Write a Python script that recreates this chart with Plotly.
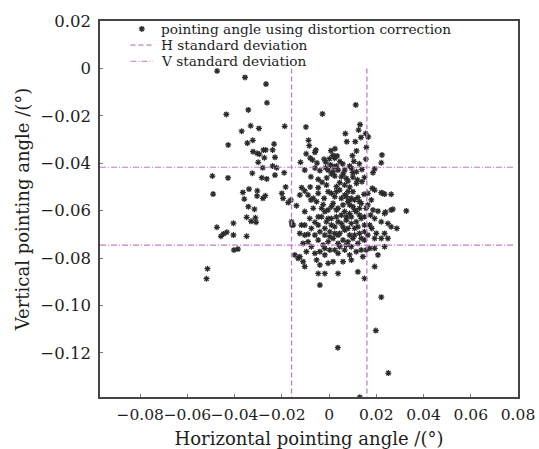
import plotly.graph_objects as go

# ---------------- data ----------------
x_left = [
    -0.0474, -0.0356, -0.0267, -0.0263, -0.0342, -0.0435, -0.0332, -0.0297, -0.0188, -0.0370,
    -0.0427, -0.0346, -0.0323, -0.0233, -0.0322, -0.0305, -0.0295, -0.0278, -0.0268, -0.0239,
    -0.0274, -0.0229, -0.0300, -0.0281, -0.0239, -0.0222, -0.0190, -0.0325, -0.0494, -0.0428,
    -0.0285, -0.0264, -0.0229, -0.0184, -0.0491, -0.0365, -0.0339, -0.0304, -0.0305, -0.0359,
    -0.0280, -0.0270, -0.0200, -0.0195, -0.0173, -0.0342, -0.0316, -0.0349, -0.0312, -0.0330,
    -0.0309, -0.0405, -0.0157, -0.0475, -0.0433, -0.0447, -0.0458, -0.0405, -0.0349, -0.0403,
    -0.0386, -0.0515, -0.0519,
]
y_left = [
    -0.0011, -0.0038, -0.0066, -0.0145, -0.0175, -0.0194, -0.0242, -0.0253, -0.0244, -0.0265,
    -0.0323, -0.0315, -0.0303, -0.0319, -0.0351, -0.0358, -0.0362, -0.0344, -0.0344, -0.0344,
    -0.0377, -0.0375, -0.0396, -0.0419, -0.0412, -0.0419, -0.0440, -0.0442, -0.0454, -0.0462,
    -0.0461, -0.0466, -0.0450, -0.0500, -0.0530, -0.0523, -0.0509, -0.0516, -0.0538, -0.0551,
    -0.0548, -0.0537, -0.0527, -0.0548, -0.0566, -0.0583, -0.0594, -0.0628, -0.0630, -0.0645,
    -0.0649, -0.0653, -0.0660, -0.0670, -0.0691, -0.0698, -0.0708, -0.0703, -0.0708, -0.0766,
    -0.0762, -0.0845, -0.0887,
]

x_upper = [
    0.0113, -0.0028, -0.0098, 0.0131, 0.0125, 0.0069, 0.0155, 0.0166, 0.0135, -0.0087,
    0.0075, 0.0111, -0.0084, 0.0158, -0.0056, -0.0060, -0.0097, 0.0116, 0.0025, 0.0008,
    0.0224, 0.0016, 0.0034, -0.0080, 0.0099, 0.0156, 0.0221, -0.0070, -0.0051, -0.0021,
    0.0002, 0.0024, -0.0014, 0.0046, 0.0058, 0.0105, 0.0128, -0.0121, 0.0006, 0.0031,
    0.0087, -0.0015, 0.0193, 0.0186, -0.0103, -0.0039, -0.0004, 0.0017, 0.0038, 0.0066,
    0.0095, 0.0116, 0.0139, -0.0077, -0.0046, -0.0010, 0.0024, 0.0052, 0.0073, 0.0101,
    0.0139, 0.0183, -0.0116, -0.0046, -0.0011, 0.0031, 0.0045, 0.0066, 0.0087, 0.0116,
    0.0010, 0.0060, -0.0030, 0.0080, 0.0120, -0.0080, 0.0150, 0.0020, -0.0060, 0.0100,
]
y_upper = [
    -0.0154, -0.0192, -0.0247, -0.0237, -0.0260, -0.0275, -0.0275, -0.0289, -0.0291, -0.0303,
    -0.0309, -0.0309, -0.0326, -0.0333, -0.0344, -0.0354, -0.0360, -0.0348, -0.0339, -0.0347,
    -0.0365, -0.0367, -0.0369, -0.0378, -0.0368, -0.0383, -0.0398, -0.0386, -0.0399, -0.0383,
    -0.0381, -0.0379, -0.0395, -0.0393, -0.0403, -0.0392, -0.0402, -0.0396, -0.0407, -0.0412,
    -0.0412, -0.0419, -0.0424, -0.0440, -0.0429, -0.0431, -0.0429, -0.0436, -0.0429, -0.0429,
    -0.0421, -0.0436, -0.0426, -0.0457, -0.0468, -0.0462, -0.0454, -0.0457, -0.0464, -0.0459,
    -0.0478, -0.0506, -0.0503, -0.0503, -0.0492, -0.0499, -0.0482, -0.0492, -0.0501, -0.0485,
    -0.0445, -0.0445, -0.0480, -0.0475, -0.0470, -0.0500, -0.0460, -0.0415, -0.0420, -0.0440,
]

x_core = [
    -0.0162, -0.0124, -0.0103, -0.0077, -0.0046, -0.0021, -0.0004, 0.0024, 0.0045, 0.0066,
    0.0087, 0.0101, 0.0122, 0.0148, 0.0179, 0.0193, 0.0228, 0.0263,
    -0.0138, -0.0103, -0.0067, -0.0046, -0.0025, -0.0004, 0.0017, 0.0038, 0.0059, 0.0080,
    0.0101, 0.0115, 0.0136, 0.0157, 0.0176, 0.0207, 0.0235, 0.0263,
    -0.0159, -0.0117, -0.0082, -0.0060, -0.0032, -0.0011, 0.0010, 0.0031, 0.0052, 0.0073,
    0.0094, 0.0115, 0.0136, 0.0172, 0.0193, 0.0221, 0.0249,
    -0.0152, -0.0124, -0.0103, -0.0089, -0.0039, -0.0018, 0.0003, 0.0024, 0.0045, 0.0066,
    0.0087, 0.0108, 0.0129, 0.0150, 0.0181, 0.0200, 0.0235, 0.0263,
    -0.0110, -0.0046, -0.0025, -0.0004, 0.0017, 0.0038, 0.0059, 0.0080, 0.0101, 0.0122,
    0.0150, 0.0193, 0.0221, 0.0249,
    -0.0145, -0.0124, -0.0096, -0.0060, -0.0039, -0.0018, 0.0003, 0.0038, 0.0066, 0.0087,
    0.0115, 0.0136, 0.0172, 0.0193, 0.0235, 0.0207,
    -0.0131, -0.0110, -0.0103, -0.0053, -0.0039, -0.0004, 0.0017, 0.0059, 0.0094, 0.0143,
    0.0193,
    -0.0046, -0.0018, 0.0038, 0.0122, 0.0150, -0.0039,
    0.0052, 0.0073, 0.0094, 0.0108, 0.0129, 0.0087, 0.0108, 0.0129, 0.0066, 0.0087,
    0.0052, 0.0073, 0.0129, 0.0150, 0.0038, 0.0094, 0.0122, 0.0150, 0.0059, 0.0080,
    0.0024, 0.0003, -0.0018, 0.0038, 0.0108, 0.0136, 0.0164, 0.0010, -0.0004, 0.0031,
    0.0010, -0.0018, -0.0032, -0.0053, -0.0067, -0.0089, 0.0010, 0.0031, 0.0080, 0.0164,
    0.0164, 0.0186, -0.0103, -0.0075, -0.0060, -0.0046, 0.0045, 0.0024, -0.0018, 0.0073,
    0.0094, 0.0157, -0.0075, -0.0089,
]
y_core = [
    -0.0555, -0.0534, -0.0517, -0.0555, -0.0527, -0.0548, -0.0520, -0.0541, -0.0513, -0.0534,
    -0.0555, -0.0520, -0.0545, -0.0531, -0.0555, -0.0513, -0.0527, -0.0531,
    -0.0579, -0.0604, -0.0590, -0.0626, -0.0574, -0.0597, -0.0569, -0.0590, -0.0576, -0.0562,
    -0.0583, -0.0604, -0.0569, -0.0590, -0.0619, -0.0602, -0.0612, -0.0597,
    -0.0647, -0.0661, -0.0633, -0.0649, -0.0626, -0.0647, -0.0633, -0.0626, -0.0654, -0.0640,
    -0.0626, -0.0647, -0.0633, -0.0661, -0.0633, -0.0647, -0.0654,
    -0.0661, -0.0696, -0.0703, -0.0700, -0.0689, -0.0675, -0.0689, -0.0668, -0.0696, -0.0682,
    -0.0703, -0.0675, -0.0696, -0.0689, -0.0675, -0.0696, -0.0696, -0.0668,
    -0.0738, -0.0724, -0.0745, -0.0731, -0.0717, -0.0738, -0.0724, -0.0731, -0.0717, -0.0738,
    -0.0724, -0.0717, -0.0717, -0.0717,
    -0.0787, -0.0794, -0.0773, -0.0780, -0.0773, -0.0787, -0.0766, -0.0780, -0.0766, -0.0787,
    -0.0773, -0.0766, -0.0759, -0.0759, -0.0752, -0.0787,
    -0.0801, -0.0815, -0.0836, -0.0808, -0.0829, -0.0822, -0.0815, -0.0815, -0.0808, -0.0794,
    -0.0836,
    -0.0865, -0.0865, -0.0865, -0.0858, -0.0886, -0.0914,
    -0.0548, -0.0541, -0.0548, -0.0555, -0.0562, -0.0576, -0.0597, -0.0590, -0.0604, -0.0612,
    -0.0619, -0.0626, -0.0619, -0.0626, -0.0647, -0.0654, -0.0668, -0.0661, -0.0668, -0.0675,
    -0.0696, -0.0710, -0.0703, -0.0703, -0.0703, -0.0717, -0.0703, -0.0661, -0.0633, -0.0597,
    -0.0583, -0.0604, -0.0590, -0.0562, -0.0548, -0.0534, -0.0527, -0.0520, -0.0520, -0.0527,
    -0.0576, -0.0597, -0.0661, -0.0675, -0.0703, -0.0661, -0.0752, -0.0766, -0.0759, -0.0745,
    -0.0752, -0.0766, -0.0752, -0.0731,
]

x_right = [0.0221, 0.0198, 0.0037, 0.0251, 0.0130, 0.0287, 0.0235, 0.0221, 0.0270, 0.0327, 0.0239]
y_right = [-0.0965, -0.1106, -0.1178, -0.1285, -0.1387, -0.0675, -0.0530, -0.0524, -0.0594, -0.0601, -0.0606]

h_std = [-0.0159, 0.0160]      # horizontal standard deviation (drawn as vertical lines)
v_std = [-0.0417, -0.0745]     # vertical standard deviation (drawn as horizontal lines)

series_names = ["pointing angle using distortion correction",
                "H standard deviation",
                "V standard deviation"]

x_range = [-0.097, 0.08]
y_range = [-0.1386, 0.02]
x_ticks = [-0.08, -0.06, -0.04, -0.02, 0, 0.02, 0.04, 0.06, 0.08]
x_ticktext = ["\u22120.08", "\u22120.06", "\u22120.04", "\u22120.02", "0", "0.02", "0.04", "0.06", "0.08"]
y_ticks = [0.02, 0, -0.02, -0.04, -0.06, -0.08, -0.10, -0.12]
y_ticktext = ["0.02", "0", "\u22120.02", "\u22120.04", "\u22120.06", "\u22120.08", "\u22120.10", "\u22120.12"]

# ---------------- figure ----------------
xs = x_left + x_upper + x_core + x_right
ys = y_left + y_upper + y_core + y_right

FONT = "DejaVu Serif"
TXT = "#1e1e1e"
LINE_C = "#c47cc4"
DOT_C = "#2b2b2b"
H_DASH = "5px,3px"
V_DASH = "6px,2px,1px,2px"

fig = go.Figure()
fig.add_trace(go.Scatter(
    x=xs, y=ys, mode="markers", name=series_names[0], showlegend=False,
    marker=dict(symbol="asterisk-open", size=5, color=DOT_C,
                line=dict(width=1.25, color=DOT_C)),
))

hx, hy = [], []
for v in h_std:
    hx += [v, v, None]
    hy += [0, y_range[0], None]
fig.add_trace(go.Scatter(x=hx, y=hy, mode="lines", name=series_names[1], showlegend=False,
                         line=dict(color=LINE_C, width=1.3, dash=H_DASH)))

vx, vy = [], []
for v in v_std:
    vx += [x_range[0], 0.0785, None]
    vy += [v, v, None]
fig.add_trace(go.Scatter(x=vx, y=vy, mode="lines", name=series_names[2], showlegend=False,
                         line=dict(color=LINE_C, width=1.2, dash=V_DASH)))

# ---- legend (drawn in the top-left corner of the plot, paper fractions) ----
leg_rows = [0.979, 0.936, 0.893]
leg_sym_x = [0.073, 0.127]
leg_text_x = 0.142
fig.add_trace(go.Scatter(x=[sum(leg_sym_x) / 2], y=[leg_rows[0]], xaxis="x2", yaxis="y2",
                         mode="markers", showlegend=False, hoverinfo="skip",
                         marker=dict(symbol="asterisk-open", size=5, color=DOT_C,
                                     line=dict(width=1.25, color=DOT_C))))
fig.add_shape(type="line", xref="paper", yref="paper", x0=leg_sym_x[0], x1=leg_sym_x[1],
              y0=leg_rows[1], y1=leg_rows[1], line=dict(color=LINE_C, width=1.2, dash=H_DASH))
fig.add_shape(type="line", xref="paper", yref="paper", x0=leg_sym_x[0], x1=leg_sym_x[1],
              y0=leg_rows[2], y1=leg_rows[2], line=dict(color=LINE_C, width=1.2, dash=V_DASH))
for name, yy in zip(series_names, leg_rows):
    fig.add_annotation(text=name, xref="paper", yref="paper", x=leg_text_x, y=yy,
                       xanchor="left", yanchor="middle", showarrow=False,
                       font=dict(family=FONT, size=13.7, color=TXT))

axis_common = dict(showline=True, linecolor="#444", linewidth=1.6, mirror=True,
                   ticks="inside", ticklen=3, tickcolor="#777", showgrid=False,
                   zeroline=False, automargin=False)

fig.update_layout(
    width=539, height=449,
    margin=dict(l=100, r=21, t=21, b=52, autoexpand=False),
    paper_bgcolor="white", plot_bgcolor="white",
    font=dict(family=FONT, color=TXT),
    showlegend=False,
    xaxis=dict(range=x_range, tickvals=x_ticks, ticktext=x_ticktext, tickangle=0,
               ticklabeloverflow="allow",
               tickfont=dict(family=FONT, size=15.5, color=TXT),
               title=dict(text="Horizontal pointing angle /(\u00b0)",
                          font=dict(family=FONT, size=18)),
               ticklabelstandoff=3, **axis_common),
    yaxis=dict(range=y_range, tickvals=y_ticks, ticktext=y_ticktext,
               tickfont=dict(family=FONT, size=16.5, color=TXT),
               title=dict(text="Vertical pointing angle /(\u00b0)",
                          font=dict(family=FONT, size=18), standoff=6),
               ticklabelstandoff=4, **axis_common),
    xaxis2=dict(overlaying="x", range=[0, 1], visible=False, fixedrange=True),
    yaxis2=dict(overlaying="y", range=[0, 1], visible=False, fixedrange=True),
)

fig.write_html("out.html", config={"displayModeBar": False},
               post_script="document.body.style.margin='0';document.body.style.overflow='hidden';")
